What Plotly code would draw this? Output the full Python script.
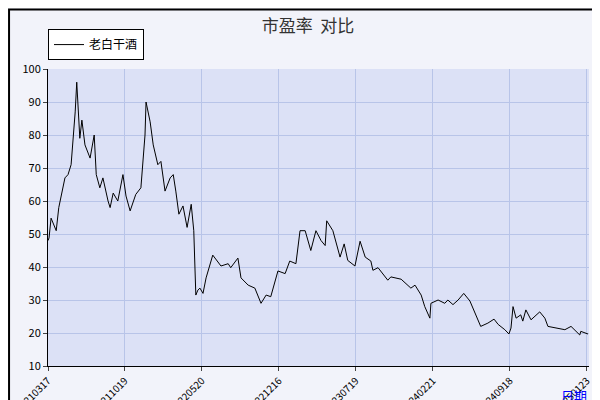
import plotly.graph_objs as go

# trading-day index and PE values
day = [0, 2, 6, 16, 21, 33, 39, 45, 53, 56, 62, 66, 72, 82, 90, 94, 101, 107, 117, 121,
       127, 136, 146, 152, 160, 171, 181, 189, 191, 199, 205, 214, 220, 228, 238, 244,
       249, 255, 263, 271, 279, 284, 288, 292, 296, 302, 308, 318, 321, 337, 351, 356,
       370, 376, 390, 403, 415, 425, 434, 448, 462, 471, 483, 491, 501, 512, 522, 532,
       540, 543, 555, 569, 577, 584, 598, 608, 618, 629, 633, 643, 662, 668, 688, 707,
       715, 727, 734, 744, 746, 760, 773, 779, 789, 799, 810, 822, 832, 843, 857, 869,
       877, 890, 898, 902, 906, 912, 921, 925, 931, 941, 958, 968, 974, 988, 1007, 1019,
       1036, 1038, 1052]
pe = [48, 48.8, 54.8, 51, 58, 67, 68, 71, 87, 96, 79, 84.5, 77, 73, 80, 68, 64, 67, 60, 58,
      62.4, 60, 68, 61.5, 57, 62, 64, 80, 90, 84, 77, 71, 72, 63, 67, 68,
      63, 56, 58.5, 52, 59, 51, 31.5, 33, 33.6, 32, 36.7, 42.7, 43.6, 40.3, 41, 39.8,
      42.7, 36.7, 34.5, 33.6, 29, 31.5, 31, 38.8, 38, 41.8, 41, 51, 51, 45, 51, 48,
      46.5, 54, 51, 43, 47, 42, 40.3, 47.8, 43, 41.8, 39, 39.8, 36, 37, 36.3, 33.6,
      34.5, 31.5, 28, 24.5, 29, 30, 29, 30, 28.6, 30, 32, 29.7, 26, 22, 23, 24.2,
      22.6, 21, 19.7, 21.5, 28, 24.5, 25.5, 23.6, 27, 24, 26.4, 24.5, 22, 21.5, 21, 22,
      19.4, 20.5, 19.7]

tick_pos = [0, 150, 300, 450, 600, 750, 900, 1050]
tick_text = ['20210317', '20211019', '20220520', '20221216',
             '20230719', '20240221', '20240918', '20250123']

fig = go.Figure(data=[go.Scatter(
    x=day, y=pe, mode='lines', name='老白干酒',
    line=dict(color='black', width=1)
)])

fig.update_layout(
    title=dict(text='市盈率  对比', x=0.5, y=0.97, xanchor='center',
               font=dict(size=17, color='#333')),
    width=600, height=400,
    paper_bgcolor='#F2F3FA', plot_bgcolor='#DCE1F6',
    font=dict(family='Noto Sans CJK SC', size=11, color='black'),
    margin=dict(l=40, r=19, t=61, b=42, autoexpand=False),
    showlegend=True,
    legend=dict(x=0, y=1.03, xanchor='left', yanchor='bottom',
                bgcolor='white', bordercolor='black', borderwidth=1,
                font=dict(size=12), itemwidth=30),
    xaxis=dict(range=[0, 1054], tickvals=tick_pos, ticktext=tick_text,
               tickangle=-45, gridcolor='#B8C4E8', showline=True,
               linecolor='black', ticks='outside', ticklen=4,
               tickfont=dict(size=10), zeroline=False, automargin=False),
    yaxis=dict(range=[10, 100], dtick=10, gridcolor='#B8C4E8', showline=True,
               linecolor='black', ticks='outside', ticklen=4, zeroline=False,
               automargin=False),
    shapes=[dict(type='rect', xref='paper', yref='paper', x0=-0.072, x1=1.03,
                 y0=-0.142, y1=1.2, line=dict(color='black', width=2))]
)
fig.add_annotation(text='日期', xref='paper', yref='paper', x=1.0, y=-0.06,
                   xanchor='right', yanchor='top', showarrow=False,
                   font=dict(size=13, color='blue'))

fig.write_html("out.html")
